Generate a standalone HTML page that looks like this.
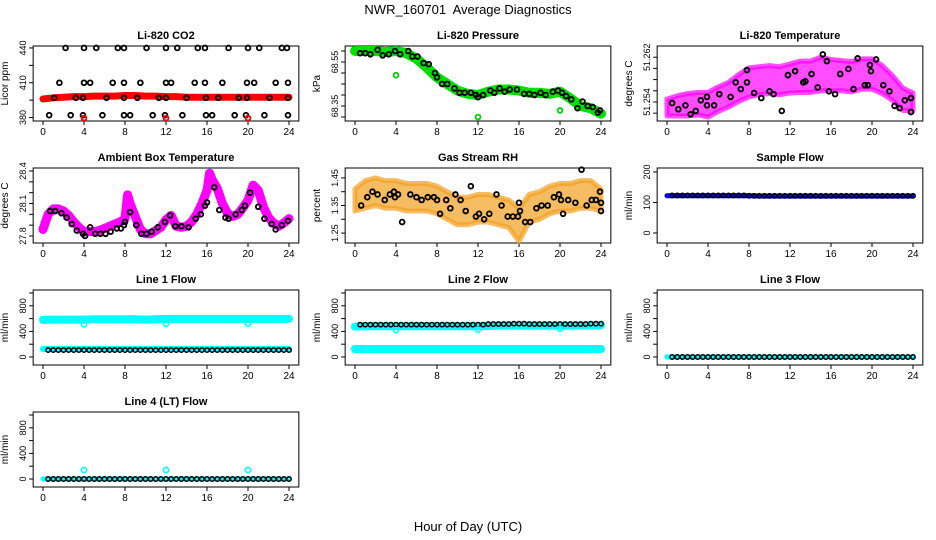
<!DOCTYPE html>
<html><head><meta charset="utf-8"><style>
html,body{margin:0;padding:0;background:#fff}
svg{display:block;font-family:"Liberation Sans",Arial,sans-serif}
</style></head><body>
<svg id="chart" width="936" height="540" viewBox="0 0 936 540" xmlns="http://www.w3.org/2000/svg">
<text x="468" y="14" font-size="13" text-anchor="middle">NWR_160701&#160; Average Diagnostics</text>
<text x="468" y="531" font-size="13" text-anchor="middle">Hour of Day (UTC)</text>
</svg>
<script>
// ---- shared axes data ----
const hours = [0,1,2,3,4,5,6,7,8,9,10,11,12,13,14,15,16,17,18,19,20,21,22,23,24];
const halfHours = [0.5,1,1.5,2,2.5,3,3.5,4,4.5,5,5.5,6,6.5,7,7.5,8,8.5,9,9.5,10,10.5,11,11.5,12,12.5,13,13.5,14,14.5,15,15.5,16,16.5,17,17.5,18,18.5,19,19.5,20,20.5,21,21.5,22,22.5,23,23.5,24];
const xTicks = [0,4,8,12,16,20,24];

// ---- Li-820 CO2 ----
const co2Red = [396,397,397.5,398,398,398.5,398.5,398.5,399,399,398.5,398.5,398,398,397.5,397.5,397.5,397.5,397.5,397.5,397.5,397.5,397.5,397.5,397.5];
const co2BlackT = [2.2,4,5.2,7.3,7.9,10.1,12,13.1,15.1,15.8,18.1,20,21.1,23.3,23.8, 1.6,4,4.6,6.8,7.9,9.5,12,12.5,14.8,15.8,17.5,19.9,20.6,22.7,23.9, 1.1,3.2,3.9,6.2,7.9,9.2,11.3,12,14,15.9,17.1,19.1,19.9,22.1,23.9, 0.6,2.7,3.9,5.8,7.9,8.5,10.7,11.9,13.6,15.9,16.5,18.7,19.8,21.6,23.9];
const co2BlackV = [440,440,440,440,440,440,440,440,440,440,440,440,440,440,440, 410,410,410,410,410,410,410,410,410,410,410,410,410,410,410, 397,397,397,397,397,397,397,397,397,397,397,397,397,397,397, 382,382,382,382,382,382,382,382,382,382,382,382,382,382,382];
const co2OutT = [4,12,20];
const co2OutV = [379.5,379.5,379.5];

// ---- Li-820 Pressure ----
const pressGreen = [68.60,68.60,68.60,68.595,68.60,68.59,68.565,68.525,68.48,68.45,68.42,68.405,68.40,68.415,68.425,68.425,68.42,68.41,68.41,68.405,68.415,68.385,68.35,68.34,68.315];
const pressBlackT = [0.5,1,1.5,2.2,2.7,3.3,3.9,4.4,5.2,5.6,6.1,6.7,7.2,7.8,8,8.5,9,9.7,10.2,10.7,11.3,11.8,12,12.5,13.2,13.6,14.1,14.6,15.1,15.8,16.5,17,17.5,18.1,18.6,19.3,19.8,20.2,20.6,21.1,21.7,22.2,22.7,23.2,23.7,23.9];
const pressBlackV = [68.59,68.59,68.585,68.605,68.58,68.585,68.6,68.585,68.6,68.575,68.575,68.545,68.54,68.5,68.48,68.45,68.45,68.43,68.41,68.41,68.41,68.40,68.39,68.40,68.42,68.41,68.43,68.415,68.425,68.425,68.405,68.405,68.40,68.41,68.40,68.415,68.42,68.41,68.395,68.38,68.34,68.37,68.35,68.345,68.32,68.33];
const pressOutT = [4,12,20];
const pressOutV = [68.49,68.30,68.33];

// ---- Li-820 Temperature ----
const tempMag = [51.2530,51.2533,51.2535,51.2537,51.2535,51.2545,51.2553,51.2565,51.2575,51.2578,51.2580,51.2578,51.2582,51.2585,51.2585,51.2590,51.2588,51.2587,51.2585,51.2590,51.2590,51.2580,51.2565,51.2545,51.2540];
const tempSpread = [0.0015,0.0018,0.0020,0.0020,0.0022,0.0022,0.0022,0.0024,0.0026,0.0025,0.0025,0.0025,0.0026,0.0028,0.0028,0.0030,0.0028,0.0027,0.0027,0.0027,0.0027,0.0025,0.0022,0.0020,0.0016];
const tempBlackT = [0.5,1.1,1.8,2.3,2.8,3.3,3.9,3.9,4.6,5.1,6.2,6.7,7.2,7.8,7.8,8.5,9.2,10,10.4,11.2,11.8,12.5,13.3,13.5,14.1,14.7,15.2,15.6,15.8,16.4,16.9,17.7,18.2,18.6,19.3,19.6,19.8,19.9,20.4,21.1,21.7,22.2,22.7,23.2,23.8,23.8];
const tempBlackV = [51.2538,51.2527,51.2534,51.2518,51.2524,51.2543,51.2549,51.2534,51.2534,51.2554,51.2549,51.2575,51.2563,51.2597,51.2575,51.2556,51.2547,51.2559,51.2554,51.2524,51.2588,51.2595,51.2575,51.2577,51.2590,51.2566,51.2625,51.2613,51.2559,51.2554,51.2590,51.2599,51.2563,51.2618,51.2570,51.2570,51.2606,51.2595,51.2616,51.2570,51.2559,51.2533,51.2529,51.2543,51.2547,51.2522];

// ---- Ambient Box Temperature ----
const ambT = [0,0.5,1,1.5,2,2.5,3,3.5,4,4.5,5,5.5,6,6.5,7,7.5,8,8.25,8.5,9,9.5,10,10.5,11,11.5,12,12.5,13,13.5,14,14.5,15,15.5,16,16.25,16.5,17,17.5,18,18.5,19,19.5,20,20.5,21,21.5,22,22.5,23,23.5,24];
const ambMag = [27.86,28.00,28.05,28.05,28.03,27.99,27.93,27.88,27.84,27.84,27.84,27.85,27.87,27.89,27.91,27.93,27.96,28.18,28.10,27.98,27.86,27.82,27.82,27.85,27.88,27.95,27.99,27.89,27.88,27.89,27.93,28.00,28.10,28.22,28.38,28.32,28.24,28.10,28.01,27.98,28.00,28.06,28.13,28.27,28.22,28.07,27.97,27.92,27.89,27.92,27.96];
const ambBlackT = [0.7,1.2,1.8,2.3,2.8,3.3,3.9,4.1,4.6,5.1,5.6,6.1,6.6,7.2,7.6,7.9,8,8.5,9.1,9.6,10.1,10.6,11.2,11.9,12.4,12.9,13.5,14.2,14.9,15.4,15.8,16,16.7,17.2,17.8,18.1,18.8,19.4,19.7,20.2,21,21.6,22.3,22.7,23.3,23.9];
const ambBlackV = [28.03,28.03,28.01,27.97,27.91,27.85,27.82,27.80,27.88,27.82,27.82,27.82,27.84,27.87,27.87,27.90,27.93,28.02,27.90,27.82,27.82,27.84,27.88,27.93,27.99,27.89,27.89,27.88,27.96,28.00,28.08,28.11,28.25,28.04,27.97,27.96,28.00,28.04,28.08,28.20,28.07,27.96,27.91,27.86,27.90,27.94];

// ---- Gas Stream RH ----
const rhMean = [1.37,1.39,1.40,1.39,1.39,1.38,1.38,1.38,1.37,1.35,1.33,1.33,1.34,1.34,1.33,1.32,1.28,1.34,1.35,1.37,1.38,1.38,1.39,1.39,1.37];
const rhSpread = [0.04,0.05,0.05,0.05,0.05,0.05,0.05,0.05,0.05,0.05,0.05,0.05,0.05,0.05,0.05,0.05,0.06,0.05,0.05,0.05,0.05,0.05,0.05,0.05,0.04];
const rhBlackT = [0.6,1.2,1.7,2.2,2.9,3.4,3.8,3.9,4.2,4.6,5.4,6,6.5,7.1,7.7,8,8.3,8.9,9.3,9.8,10.3,10.8,11.3,11.8,12.1,12.6,13.1,13.8,14.3,14.9,15.4,15.9,16,16.1,16.6,17.1,17.7,18.2,18.8,19.4,19.9,20.1,20.3,20.8,21.5,22.1,22.6,23.1,23.5,23.9,24,24];
const rhBlackV = [1.35,1.38,1.40,1.39,1.37,1.39,1.40,1.38,1.39,1.29,1.39,1.38,1.37,1.38,1.38,1.37,1.32,1.37,1.34,1.39,1.37,1.33,1.42,1.31,1.32,1.30,1.32,1.39,1.35,1.31,1.31,1.31,1.36,1.33,1.29,1.29,1.34,1.35,1.35,1.38,1.39,1.37,1.32,1.37,1.36,1.48,1.35,1.37,1.37,1.40,1.33,1.36];

// ---- Sample Flow ----
const sampleBlue = [122,122,122,122,122,122,122,122,122,121,121,121,121,121,121,121,121,121,121,121,121,121,121,121,121];
const sampleBlack = [123,123,123,123,123,123,123,123,123,123,123,123,123,123,123,122,122,122,122,122,122,122,122,122,122,122,122,122,122,122,122,122,122,122,122,122,122,122,122,122,122,122,122,122,122,122,122,122];

// ---- Line flows ----
const line1CyanHigh = [580,585,585,585,585,590,590,590,590,590,585,590,595,595,595,595,595,595,595,595,595,595,595,595,595];
const line1CyanLow = [125,125,125,125,125,125,125,125,125,125,125,125,125,125,125,125,125,125,125,125,125,125,125,125,125];
const line1Black = [108,108,108,108,108,108,108,108,108,108,108,108,108,108,108,108,108,108,108,108,108,108,108,108,108,108,108,108,108,108,108,108,108,108,108,108,108,108,108,108,108,108,108,108,108,108,108,108];
const line1OutT = [4,12,20];
const line1OutV = [510,520,520];
const line2CyanHigh = [475,480,480,480,480,480,480,480,480,480,480,480,480,485,490,490,490,490,490,490,490,490,495,495,495];
const line2CyanLow = [125,125,125,125,125,125,125,125,125,125,125,125,125,125,125,125,125,125,125,125,125,125,125,125,125];
const line2Black = [505,505,505,505,505,505,505,505,505,505,505,505,505,505,505,505,505,505,505,505,505,505,505,505,505,515,515,515,515,515,520,520,520,515,515,515,515,515,515,515,515,515,515,515,515,520,520,520];
const line2OutT = [4,12,20];
const line2OutV = [420,430,440];
const line3Cyan = [0,0,0,0,0,0,0,0,0,0,0,0,0,0,0,0,0,0,0,0,0,0,0,0,0];
const line3Black = [0,0,0,0,0,0,0,0,0,0,0,0,0,0,0,0,0,0,0,0,0,0,0,0,0,0,0,0,0,0,0,0,0,0,0,0,0,0,0,0,0,0,0,0,0,0,0,0];
const line4Cyan = [0,0,0,0,0,0,0,0,0,0,0,0,0,0,0,0,0,0,0,0,0,0,0,0,0];
const line4Black = [0,0,0,0,0,0,0,0,0,0,0,0,0,0,0,0,0,0,0,0,0,0,0,0,0,0,0,0,0,0,0,0,0,0,0,0,0,0,0,0,0,0,0,0,0,0,0,0,0];
const line4OutT = [4,12,20];
const line4OutV = [140,140,140];

// ---- tick arrays ----
const co2Ticks = [380,395,410,425,440];
const co2Labels = ["380","","410","","440"];
const pressTicks = [68.3,68.35,68.4,68.45,68.5,68.55,68.6];
const pressLabels = ["","68.35","","","","68.55",""];
const tempTicks = [51.252,51.254,51.256,51.258,51.26,51.262];
const tempLabels = ["","51.254","","","","51.262"];
const ambTicks = [27.8,27.9,28.0,28.1,28.2,28.3,28.4];
const ambLabels = ["27.8","","","28.1","","","28.4"];
const rhTicks = [1.25,1.3,1.35,1.4,1.45];
const rhLabels = ["1.25","","1.35","","1.45"];
const sampleTicks = [0,100,200];
const sampleLabels = ["0","100","200"];
const flowTicks = [0,200,400,600,800,1000];
const flowLabels = ["0","","400","","800",""];

// ---- layout ----
const NS = "http://www.w3.org/2000/svg";
const svg = document.getElementById('chart');
const COLX0 = [43,355,667];
const PPH = 10.25;
const ROWTOP = [46,168,290,412];
const BOXH = 75;

function mk(tag, attrs, parent){
  const e = document.createElementNS(NS, tag);
  for (const k in attrs) e.setAttribute(k, attrs[k]);
  (parent||svg).appendChild(e);
  return e;
}

function makePanel(col,row,ylim,title,ylab,ticks,labels,name){
  const g = mk('g',{});
  
  
  const top = ROWTOP[row];
  const left = COLX0[col] - 0.96*PPH, right = COLX0[col] + 24.96*PPH;
  const P = {g, top, left, right,
    x: h => COLX0[col] + h*PPH,
    y: v => top + (ylim[1]-v)/(ylim[1]-ylim[0])*BOXH};
  const box = mk('rect',{x:left,y:top,width:right-left,height:BOXH,fill:'none',stroke:'#000','stroke-width':1},g);
  
  
  const t = mk('text',{x:(left+right)/2,y:top-7,'font-size':11,'font-weight':'bold','text-anchor':'middle'},g);
  t.textContent = title;
  
  
  const yt = mk('text',{transform:`translate(${left-25},${top+BOXH/2}) rotate(-90)`,'font-size':10,'text-anchor':'middle'},g);
  yt.textContent = ylab;
  
  
  const xa = mk('g',{},g);
  
  
  mk('line',{x1:P.x(xTicks[0]),x2:P.x(xTicks[xTicks.length-1]),y1:top+BOXH,y2:top+BOXH,stroke:'#000'},xa);
  xTicks.forEach(v=>{
    mk('line',{x1:P.x(v),x2:P.x(v),y1:top+BOXH,y2:top+BOXH+4,stroke:'#000'},xa);
    const l = mk('text',{x:P.x(v),y:top+BOXH+14,'font-size':10,'text-anchor':'middle'},xa);
    l.textContent = String(v);
    
    
  });
  const ya = mk('g',{},g);
  
  
  ticks.forEach((v,i)=>{
    mk('line',{x1:left-4,x2:left,y1:P.y(v),y2:P.y(v),stroke:'#000'},ya);
    if (labels[i]) {
      const l = mk('text',{transform:`translate(${left-7},${P.y(v)}) rotate(-90)`,'font-size':9,'text-anchor':'middle'},ya);
      l.textContent = labels[i];
      
      
    }
  });
  return P;
}

function points(P, xs, ys, color, name, r, sw){
  const g = mk('g',{},P.g);
  
  
  xs.forEach((h,i)=>{
    const c = mk('circle',{cx:P.x(h),cy:P.y(ys[i]),r:r||2.4,fill:'none',stroke:color,'stroke-width':sw||1.8},g);
    
    
  });
}

function band(P, xs, ys, color, width, name){
  const pl = mk('polyline',{points:xs.map((h,i)=>P.x(h)+','+P.y(ys[i])).join(' '),fill:'none',stroke:color,'stroke-width':width,'stroke-linecap':'round','stroke-linejoin':'round'},P.g);
  
  
}

function cloud(P, xs, mid, spread, color, name){
  const upper = xs.map((h,i)=>P.x(h)+','+P.y(mid[i]+spread[i]));
  const lower = xs.map((h,i)=>P.x(h)+','+P.y(mid[i]-spread[i])).reverse();
  const pg = mk('polygon',{points:upper.concat(lower).join(' '),fill:color,'fill-opacity':0.7,stroke:color,'stroke-width':5,'stroke-linejoin':'round','stroke-opacity':0.7},P.g);
  
  
}

let P = makePanel(0,0,[377,441.7],'Li-820 CO2','Licor ppm',co2Ticks,co2Labels,'co2');
band(P, hours, co2Red, '#f00', 7, 'co2-red-series');
points(P, co2BlackT, co2BlackV, '#000', 'co2-black-series');
points(P, co2OutT, co2OutV, '#f00', 'co2-red-outliers');

P = makePanel(1,0,[68.2818,68.6227],'Li-820 Pressure','kPa',pressTicks,pressLabels,'pressure');
band(P, hours, pressGreen, '#00e000', 10, 'pressure-green-series');
points(P, pressBlackT, pressBlackV, '#000', 'pressure-black-series');
points(P, pressOutT, pressOutV, '#00d000', 'pressure-green-outliers');

P = makePanel(2,0,[51.2506,51.264],'Li-820 Temperature','degrees C',tempTicks,tempLabels,'licor-temp');
cloud(P, hours, tempMag, tempSpread, '#ff00ff', 'licor-temp-magenta-series');
points(P, tempBlackT, tempBlackV, '#000', 'licor-temp-black-series');

P = makePanel(0,1,[27.735,28.428],'Ambient Box Temperature','degrees C',ambTicks,ambLabels,'ambient-temp');
band(P, ambT, ambMag, '#ff00ff', 9, 'ambient-magenta-series');
points(P, ambBlackT, ambBlackV, '#000', 'ambient-black-series');

P = makePanel(1,1,[1.214,1.486],'Gas Stream RH','percent',rhTicks,rhLabels,'rh');
cloud(P, hours, rhMean, rhSpread, '#f2a020', 'rh-orange-series');
points(P, rhBlackT, rhBlackV, '#000', 'rh-black-series');

P = makePanel(2,1,[-32.8,213],'Sample Flow','ml/min',sampleTicks,sampleLabels,'sample-flow');
band(P, hours, sampleBlue, '#0000ff', 5, 'sample-flow-blue-series');
points(P, halfHours, sampleBlack, '#000', 'sample-flow-black-series', 2.2, 1.5);

P = makePanel(0,2,[-125,1047],'Line 1 Flow','ml/min',flowTicks,flowLabels,'line1');
band(P, hours, line1CyanHigh, '#00ffff', 8, 'line1-cyan-high');
band(P, hours, line1CyanLow, '#00ffff', 6, 'line1-cyan-low');
points(P, halfHours, line1Black, '#000', 'line1-black-series', 2.2, 1.5);
points(P, line1OutT, line1OutV, '#00ffff', 'line1-outliers', 2.6, 1.6);

P = makePanel(1,2,[-125,1047],'Line 2 Flow','ml/min',flowTicks,flowLabels,'line2');
band(P, hours, line2CyanHigh, '#00ffff', 8, 'line2-cyan-high');
band(P, hours, line2CyanLow, '#00ffff', 8, 'line2-cyan-low');
points(P, halfHours, line2Black, '#000', 'line2-black-series', 2.2, 1.5);
points(P, line2OutT, line2OutV, '#00ffff', 'line2-outliers', 2.6, 1.6);

P = makePanel(2,2,[-125,1047],'Line 3 Flow','ml/min',flowTicks,flowLabels,'line3');
band(P, hours, line3Cyan, '#00ffff', 5, 'line3-cyan-series');
points(P, halfHours, line3Black, '#000', 'line3-black-series', 2.2, 1.5);

P = makePanel(0,3,[-125,1047],'Line 4 (LT) Flow','ml/min',flowTicks,flowLabels,'line4');
band(P, hours, line4Cyan, '#00ffff', 5, 'line4-cyan-series');
points(P, halfHours, line4Black, '#000', 'line4-black-series', 2.2, 1.5);
points(P, line4OutT, line4OutV, '#00ffff', 'line4-outliers', 2.6, 1.6);
</script>
</body></html>
